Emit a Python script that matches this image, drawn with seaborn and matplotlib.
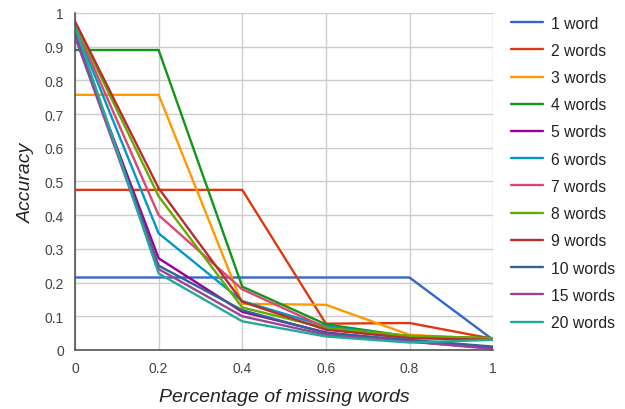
import pandas as pd
import matplotlib.pyplot as plt
import seaborn as sns

# x positions (fraction of missing words)
missing = [0, 0.2, 0.4, 0.6, 0.8, 1.0]

# accuracy per query length
acc_1 = [0.215, 0.215, 0.215, 0.215, 0.215, 0.03]
acc_2 = [0.475, 0.475, 0.475, 0.078, 0.080, 0.033]
acc_3 = [0.757, 0.757, 0.137, 0.134, 0.045, 0.032]
acc_4 = [0.890, 0.890, 0.188, 0.076, 0.040, 0.035]
acc_5 = [0.930, 0.272, 0.113, 0.052, 0.025, 0.005]
acc_6 = [0.960, 0.346, 0.145, 0.070, 0.040, 0.033]
acc_7 = [0.965, 0.400, 0.180, 0.066, 0.038, 0.033]
acc_8 = [0.970, 0.456, 0.126, 0.065, 0.042, 0.035]
acc_9 = [0.975, 0.480, 0.143, 0.060, 0.035, 0.030]
acc_10 = [0.940, 0.250, 0.118, 0.050, 0.030, 0.010]
acc_15 = [0.930, 0.240, 0.100, 0.045, 0.025, 0.003]
acc_20 = [0.960, 0.227, 0.085, 0.040, 0.022, 0.030]

labels = ["1 word", "2 words", "3 words", "4 words", "5 words", "6 words",
          "7 words", "8 words", "9 words", "10 words", "15 words", "20 words"]
series = [acc_1, acc_2, acc_3, acc_4, acc_5, acc_6,
          acc_7, acc_8, acc_9, acc_10, acc_15, acc_20]

colors = ["#3366cc", "#dc3912", "#ff9900", "#109618", "#990099", "#0099c6",
          "#dd4477", "#66aa00", "#b82e2e", "#316395", "#994499", "#22aa99"]

rows = []
for lab, vals in zip(labels, series):
    for x, y in zip(missing, vals):
        rows.append({"missing": x, "accuracy": y, "query": lab})
df = pd.DataFrame(rows)

sns.set_style("white")
plt.rcParams["font.family"] = ["Liberation Sans", "DejaVu Sans"]

fig = plt.figure(figsize=(6.25, 4.10), dpi=100)
ax = fig.add_axes([0.12, 0.144, 0.669, 0.822])

sns.lineplot(data=df, x="missing", y="accuracy", hue="query",
             hue_order=labels, palette=colors, linewidth=1.7, ax=ax)

ax.set_xlim(0, 1)
ax.set_ylim(0, 1)
ax.set_xticks(missing)
ax.set_xticklabels(["0", "0.2", "0.4", "0.6", "0.8", "1"])
ax.set_yticks([i / 10 for i in range(11)])
ax.set_yticklabels(["0"] + [f"0.{i}" for i in range(1, 10)] + ["1"])
ax.tick_params(axis="both", length=0, labelsize=10, colors="#444444", pad=8)

ax.grid(True, color="#cccccc", linewidth=1)
ax.set_axisbelow(True)
for side in ["top", "right"]:
    ax.spines[side].set_visible(False)
for side in ["left", "bottom"]:
    ax.spines[side].set_color("#555555")
    ax.spines[side].set_linewidth(1.2)

ax.set_xlabel("Percentage of missing words", fontsize=14, style="italic",
              color="#222222", labelpad=9)
ax.set_ylabel("Accuracy", fontsize=14, style="italic", color="#222222",
              labelpad=7)

leg = ax.legend(loc="upper left", bbox_to_anchor=(0.808, 0.975),
                bbox_transform=fig.transFigure, frameon=False, fontsize=11.3,
                handlelength=2.0, handletextpad=0.55, labelspacing=0.78,
                borderaxespad=0)
for t in leg.get_texts():
    t.set_color("#222222")

fig.savefig("out.png", dpi=100)
